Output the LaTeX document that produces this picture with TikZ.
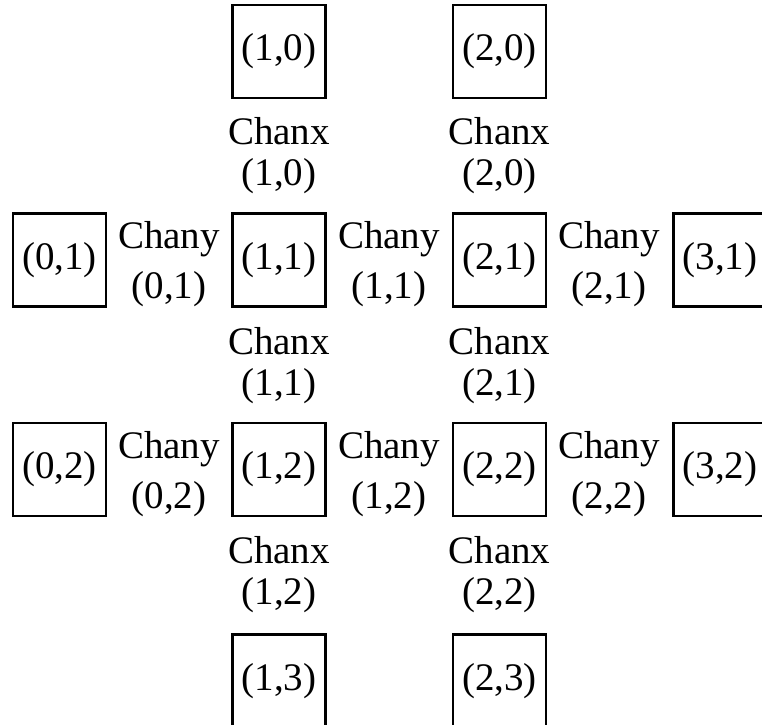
\documentclass[tikz,border=0pt]{standalone}
\usepackage{fontspec}
\setmainfont{Liberation Serif}
\begin{document}
\begin{tikzpicture}[x=1pt,y=-1pt,
  blk/.style={draw,line width=2.4pt,minimum width=93pt,minimum height=93pt,inner sep=0pt,
    font=\fontsize{39}{45}\selectfont},
  chanx/.style={align=center,inner sep=0pt,font=\fontsize{39}{41}\selectfont},
  chany/.style={align=center,inner sep=0pt,font=\fontsize{39}{50}\selectfont}]
\useasboundingbox (0,0) rectangle (762,724);
\clip (0,0) rectangle (762,724);
% logic blocks
\node[blk] (b10) at (279,51.5) {(1,0)};
\node[blk] (b20) at (499.5,51.5) {(2,0)};
\node[blk] (b01) at (59.5,260) {(0,1)};
\node[blk] (b11) at (279,260) {(1,1)};
\node[blk] (b21) at (499.5,260) {(2,1)};
\node[blk] (b31) at (720,260) {(3,1)};
\node[blk] (b02) at (59.5,469.5) {(0,2)};
\node[blk] (b12) at (279,469.5) {(1,2)};
\node[blk] (b22) at (499.5,469.5) {(2,2)};
\node[blk] (b32) at (720,469.5) {(3,2)};
\node[blk] (b13) at (279,681) {(1,3)};
\node[blk] (b23) at (499.5,681) {(2,3)};
% horizontal channels
\node[chanx] (cx10) at (279,156) {Chanx\\(1,0)};
\node[chanx] (cx20) at (499.5,156) {Chanx\\(2,0)};
\node[chanx] (cx11) at (279,366) {Chanx\\(1,1)};
\node[chanx] (cx21) at (499.5,366) {Chanx\\(2,1)};
\node[chanx] (cx12) at (279,575) {Chanx\\(1,2)};
\node[chanx] (cx22) at (499.5,575) {Chanx\\(2,2)};
% vertical channels
\node[chany] (cy01) at (169,264) {Chany\\(0,1)};
\node[chany] (cy11) at (389,264) {Chany\\(1,1)};
\node[chany] (cy21) at (609,264) {Chany\\(2,1)};
\node[chany] (cy02) at (169,474) {Chany\\(0,2)};
\node[chany] (cy12) at (389,474) {Chany\\(1,2)};
\node[chany] (cy22) at (609,474) {Chany\\(2,2)};
\end{tikzpicture}
\end{document}
